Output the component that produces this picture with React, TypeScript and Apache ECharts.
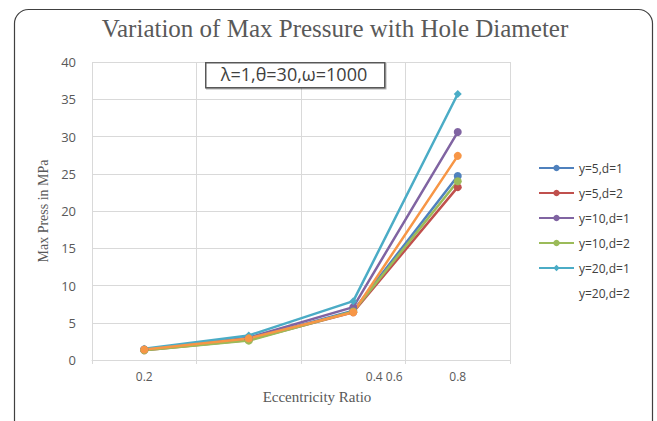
import React, { useEffect, useRef } from "react";
import * as echarts from "echarts";

const categories = ["0.2", "0.4", "0.6", "0.8"];
const tickLabels = ["0.2", "", "0.4 0.6", "0.8"];
const seriesNames = ["y=5,d=1", "y=5,d=2", "y=10,d=1", "y=10,d=2", "y=20,d=1", "y=20,d=2"];
const s1 = [1.4, 2.8, 6.6, 24.7];
const s2 = [1.3, 2.7, 6.4, 23.2];
const s3 = [1.4, 3.0, 7.1, 30.6];
const s4 = [1.3, 2.6, 6.5, 24.0];
const s5 = [1.5, 3.3, 7.9, 35.7];
const s6 = [1.4, 2.9, 6.4, 27.4];
const seriesValues = [s1, s2, s3, s4, s5, s6];
const colors = ["#4F81BD", "#C0504D", "#8064A2", "#9BBB59", "#4BACC6", "#F79646"];
const symbols = ["circle", "circle", "circle", "circle", "diamond", "circle"];

export default function App() {
  const ref = useRef<HTMLDivElement>(null);
  useEffect(() => {
    if (!ref.current) return;
    const chart = echarts.init(ref.current, null, { renderer: "svg" });
    const sans = "'Open Sans', 'Noto Sans', sans-serif";
    const serif = "'Liberation Serif', 'DejaVu Serif', serif";
    chart.setOption({
      animation: false,
      backgroundColor: "#ffffff",
      title: {
        text: "Variation of Max Pressure with Hole Diameter",
        left: 335,
        textAlign: "center",
        top: 16,
        padding: 0,
        textStyle: { fontFamily: serif, fontSize: 25, fontWeight: "normal", color: "#595959" },
      },
      legend: {
        orient: "vertical",
        left: 538,
        top: 162,
        padding: 0,
        itemWidth: 35,
        itemHeight: 8,
        itemGap: 13,
        textStyle: { fontFamily: sans, fontSize: 12, color: "#404040", padding: [14, 0, 0, 0] },
        data: seriesNames.map((n, i) =>
          i === 5
            ? { name: n, itemStyle: { opacity: 0 }, lineStyle: { opacity: 0 } }
            : { name: n }
        ),
      },
      grid: { left: 92, right: 147, top: 62, bottom: 61 },
      xAxis: {
        type: "category",
        data: categories,
        boundaryGap: true,
        name: "Eccentricity Ratio",
        nameLocation: "middle",
        nameGap: 29,
        nameTextStyle: { fontFamily: serif, fontSize: 15, color: "#595959", padding: [0, 0, 0, 32] },
        axisLine: { show: true, lineStyle: { color: "#D9D9D9", width: 1 } },
        axisTick: { show: true, length: 4, lineStyle: { color: "#D9D9D9" } },
        splitLine: { show: true, lineStyle: { color: "#D9D9D9", width: 1 } },
        axisLabel: {
          margin: 10,
          fontFamily: sans,
          fontSize: 12,
          color: "#595959",
          formatter: (_v: string, idx: number) =>
            idx === 2 ? "{s|" + tickLabels[idx] + "}" : tickLabels[idx],
          rich: { s: { fontFamily: sans, fontSize: 12, color: "#595959", padding: [0, 0, 0, 62] } },
        },
      },
      yAxis: {
        type: "value",
        min: 0,
        max: 40,
        interval: 5,
        name: "Max Press in MPa",
        nameLocation: "middle",
        nameGap: 40,
        nameRotate: 90,
        nameTextStyle: { fontFamily: serif, fontSize: 14, color: "#595959" },
        axisLine: { show: false },
        axisTick: { show: false },
        splitLine: { show: true, lineStyle: { color: "#D9D9D9", width: 1 } },
        axisLabel: { margin: 16, fontFamily: sans, fontSize: 13, color: "#595959" },
      },
      graphic: [
        {
          type: "rect",
          left: 12,
          top: 7,
          shape: { width: 638, height: 430, r: 14 },
          style: { fill: "none", stroke: "#404040", lineWidth: 1.2 },
          silent: true,
          z: -1,
        },
        {
          type: "rect",
          left: 205,
          top: 62,
          shape: { width: 179, height: 25 },
          style: { fill: "#ffffff", stroke: "#595959", lineWidth: 1.5, shadowColor: "rgba(0,0,0,0.3)", shadowOffsetX: 1, shadowOffsetY: 1, shadowBlur: 1 },
          z: 10,
        },
        {
          type: "text",
          x: 294,
          y: 74,
          style: {
            text: "λ=1,θ=30,ω=1000",
            fontFamily: sans,
            fontSize: 18,
            fill: "#404040",
            align: "center",
            verticalAlign: "middle",
          },
          z: 11,
        },
      ],
      series: seriesNames.map((n, i) => ({
        name: n,
        type: "line",
        data: seriesValues[i],
        symbol: symbols[i],
        symbolSize: 8,
        color: colors[i],
        lineStyle: { width: 2.5, color: colors[i] },
        itemStyle: { color: colors[i] },
      })),
    });
    return () => chart.dispose();
  }, []);
  return (
    <div
      ref={ref}
      style={{ position: "fixed", left: 0, top: 0, width: 657, height: 421 }}
    />
  );
}
